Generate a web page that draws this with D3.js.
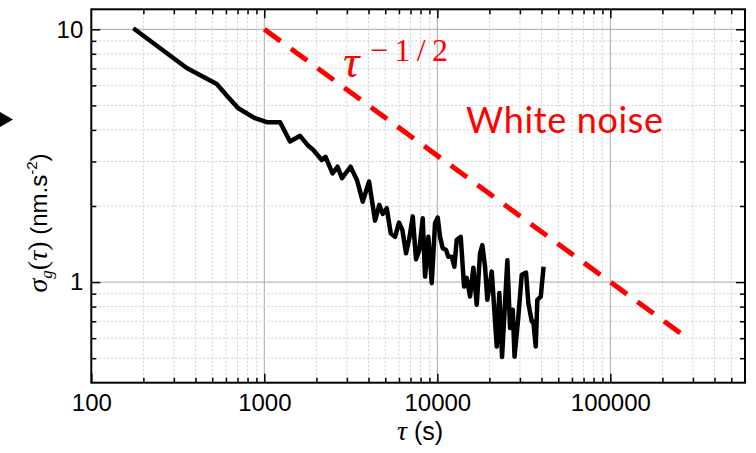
<!DOCTYPE html>
<html>
<head>
<meta charset="utf-8">
<script src="https://cdn.jsdelivr.net/npm/d3@7"></script>
<style>
  body { margin: 0; background: #fff; }
  svg { display: block; }
</style>
</head>
<body>
<svg id="chart" width="756" height="453"></svg>
<script>
// Allan deviation of the gravity signal, sigma_g(tau), in nm.s^-2
const tau = [
  175, 356, 531, 617, 707, 884, 1033, 1233, 1408, 1609,
  1796, 1920, 2147, 2259, 2479, 2650, 2812, 3150, 3434, 3706,
  4030, 4364, 4620, 4835, 5100, 5379, 5694, 6005, 6275, 6593,
  6889, 7207, 7532, 7870, 8231, 8492, 8872, 9282, 9698, 10050,
  10366, 10745, 11228, 11576, 12111, 12541, 12946, 13653, 14269, 14789,
  15453, 16152, 16892, 17651, 18201, 18868, 19454, 20634, 22041, 22818,
  23660, 25390, 26320, 27280, 27940, 29390, 30750, 32560, 33570, 35130,
  35880, 37050, 37840, 39600, 41110
];
const sigma = [
  10.1, 7.03, 6.08, 5.40, 4.87, 4.45, 4.29, 4.29, 3.60, 3.79,
  3.46, 3.33, 3.04, 3.13, 2.69, 2.86, 2.58, 2.86, 2.53, 2.08,
  2.50, 1.75, 2.02, 1.86, 1.96, 1.56, 1.51, 1.72, 1.61, 1.30,
  1.49, 1.82, 1.23, 1.34, 1.79, 1.05, 1.51, 0.99, 1.71, 1.80,
  1.51, 1.36, 1.34, 1.26, 1.26, 1.15, 1.47, 1.51, 0.96, 1.04,
  0.877, 1.14, 0.813, 1.30, 1.40, 1.15, 0.851, 1.10, 0.556, 0.905,
  0.505, 1.22, 0.658, 0.777, 0.507, 0.731, 1.07, 1.09, 0.826, 0.699,
  0.699, 0.556, 0.851, 0.877, 1.15
];

// tau^(-1/2) reference slope (white noise)
const whiteTau = [1000, 270000];
const whiteSigma = [10, 0.609];

const xDomain = [100, 600000];
const yDomain = [0.4, 12];
const xTickLabels = [100, 1000, 10000, 100000];
const yTickLabels = [1, 10];

const L = 91.3, R = 745, T = 9.3, B = 382.7;

const svg = d3.select("#chart");
const x = d3.scaleLog().domain(xDomain).range([L, R]);
const y = d3.scaleLog().domain(yDomain).range([B, T]);

const isMajor = v => Math.abs(Math.log10(v) - Math.round(Math.log10(v))) < 1e-9;
const xTicks = x.ticks().filter(v => v > xDomain[0] && v < xDomain[1]);
const yTicks = y.ticks().filter(v => v > yDomain[0] && v < yDomain[1]);

// grid
const grid = svg.append("g");
grid.selectAll("line.gx").data(xTicks).join("line")
  .attr("x1", d => x(d)).attr("x2", d => x(d)).attr("y1", T).attr("y2", B)
  .attr("stroke", d => isMajor(d) ? "#a8a8a8" : "#cfcfcf")
  .attr("stroke-width", 1)
  .attr("stroke-dasharray", d => isMajor(d) ? null : "2,2");
grid.selectAll("line.gy").data(yTicks).join("line")
  .attr("y1", d => y(d)).attr("y2", d => y(d)).attr("x1", L).attr("x2", R)
  .attr("stroke", d => isMajor(d) ? "#a8a8a8" : "#cfcfcf")
  .attr("stroke-width", 1)
  .attr("stroke-dasharray", d => isMajor(d) ? null : "2,2");

// data
const pts = tau.map((t, i) => ({t, s: sigma[i]}));
svg.append("path")
  .datum(pts)
  .attr("fill", "none")
  .attr("stroke", "#000")
  .attr("stroke-width", 4.5)
  .attr("stroke-linejoin", "round")
  .attr("d", d3.line().x(d => x(d.t)).y(d => y(d.s)));

const wpts = whiteTau.map((t, i) => ({t, s: whiteSigma[i]}));
svg.append("path")
  .datum(wpts)
  .attr("fill", "none")
  .attr("stroke", "#ff0000")
  .attr("stroke-width", 5)
  .attr("stroke-dasharray", "20,13")
  .attr("d", d3.line().x(d => x(d.t)).y(d => y(d.s)));

// axes
const tickFont = "'Liberation Sans', Arial, sans-serif";
function styleTicks(g) {
  g.select(".domain").remove();
  g.selectAll(".tick line").attr("stroke", "#000").attr("stroke-width", 1.5);
  g.selectAll(".tick text").attr("font-family", tickFont).attr("font-size", 24).attr("fill", "#000");
}
const fmt = d => xTickLabels.includes(d) ? String(d) : "";
const fmtY = d => yTickLabels.includes(d) ? String(d) : "";

const gB = svg.append("g").attr("transform", `translate(0,${B})`)
  .call(d3.axisBottom(x).tickValues(xTicks.concat([xDomain[0]])).tickFormat(fmt).tickSizeInner(-5).tickPadding(11));
gB.selectAll(".tick").filter(d => isMajor(d)).select("line").attr("y2", -9);
styleTicks(gB);

const gT = svg.append("g").attr("transform", `translate(0,${T})`)
  .call(d3.axisTop(x).tickValues(xTicks).tickFormat("").tickSizeInner(-5));
gT.selectAll(".tick").filter(d => isMajor(d)).select("line").attr("y2", 9);
styleTicks(gT);

const gL = svg.append("g").attr("transform", `translate(${L},0)`)
  .call(d3.axisLeft(y).tickValues(yTicks).tickFormat(fmtY).tickSizeInner(-5).tickPadding(8));
gL.selectAll(".tick").filter(d => isMajor(d)).select("line").attr("x2", 9);
styleTicks(gL);

const gR = svg.append("g").attr("transform", `translate(${R},0)`)
  .call(d3.axisRight(y).tickValues(yTicks).tickFormat("").tickSizeInner(-5));
gR.selectAll(".tick").filter(d => isMajor(d)).select("line").attr("x2", -9);
styleTicks(gR);

// frame
svg.append("rect")
  .attr("x", L).attr("y", T).attr("width", R - L).attr("height", B - T)
  .attr("fill", "none").attr("stroke", "#000").attr("stroke-width", 2);

// axis titles
const serif = "'Liberation Serif', 'DejaVu Serif', serif";
const xt = svg.append("text")
  .attr("x", 420).attr("y", 440).attr("text-anchor", "middle")
  .attr("font-family", tickFont).attr("font-size", 25).attr("fill", "#000");
xt.append("tspan").attr("font-family", serif).attr("font-style", "italic").attr("font-size", 28).text("τ");
xt.append("tspan").text(" (s)");

const yt = svg.append("text")
  .attr("transform", "translate(47,223) rotate(-90)")
  .attr("text-anchor", "middle")
  .attr("font-family", tickFont).attr("font-size", 24).attr("fill", "#000");
yt.append("tspan").attr("font-family", serif).attr("font-style", "italic").attr("font-size", 28).text("σ");
yt.append("tspan").attr("font-family", serif).attr("font-style", "italic").attr("font-size", 17).attr("dy", 5).text("g");
yt.append("tspan").attr("font-family", serif).attr("font-size", 28).attr("dy", -5).text("(");
yt.append("tspan").attr("font-family", serif).attr("font-style", "italic").attr("font-size", 28).text("τ");
yt.append("tspan").attr("font-family", serif).attr("font-size", 28).text(")");
yt.append("tspan").text(" (nm.s");
yt.append("tspan").attr("font-size", 15).attr("dy", -10).text("-2");
yt.append("tspan").attr("dy", 10).text(")");

// slope annotation: tau with a -1/2 exponent
const st = svg.append("text")
  .attr("font-family", serif).attr("fill", "#ff0000");
st.append("tspan").attr("x", 343).attr("y", 77).attr("font-style", "italic").attr("font-size", 46).text("τ");
st.append("tspan").attr("x", 370).attr("y", 61).attr("font-size", 32)
  .attr("textLength", 78).attr("lengthAdjust", "spacing").text("−1/2");

svg.append("text")
  .attr("x", 466).attr("y", 133)
  .attr("font-family", "Lato, 'Open Sans', sans-serif").attr("font-size", 36)
  .attr("textLength", 197).attr("lengthAdjust", "spacing")
  .attr("fill", "#ff0000").text("White noise");

// side marker
svg.append("path").attr("d", "M0,112L13,119.5L0,127Z").attr("fill", "#000");
</script>
</body>
</html>
